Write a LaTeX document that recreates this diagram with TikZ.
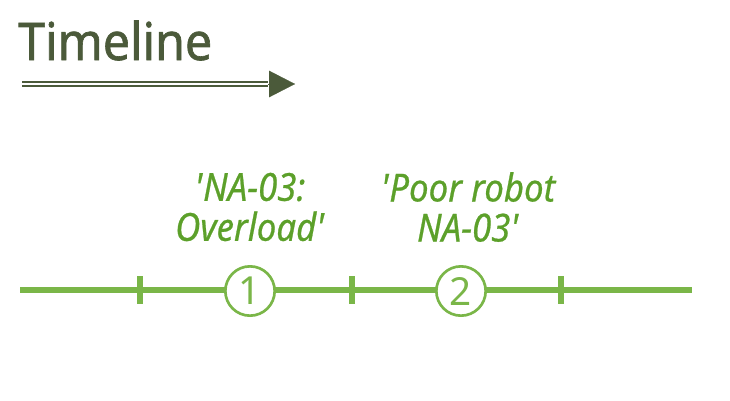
\documentclass[tikz,border=0pt]{standalone}
\usepackage{fontspec}
\setmainfont{Noto Sans}
\usetikzlibrary{arrows.meta}
\definecolor{olive}{RGB}{75,90,58}
\definecolor{lineg}{RGB}{122,182,72}
\definecolor{textg}{RGB}{92,160,42}
\begin{document}
\begin{tikzpicture}[x=0.75pt,y=-0.75pt,
   tick/.style={rectangle,fill=lineg,inner sep=0pt,minimum width=3.8pt,minimum height=21pt},
   mark circle/.style={circle,draw=lineg,line width=2pt,fill=white,minimum size=37pt,
      inner sep=0pt,text=lineg,font=\fontsize{29}{29}\selectfont},
   event/.style={text=textg,align=center,
      font=\fontsize{29}{30}\selectfont\itshape\addfontfeature{FakeStretch=0.9,FakeBold=0.6}}]
   \useasboundingbox (0,0) rectangle (730,400);

   \node[anchor=base west,text=olive,inner sep=0pt,
      font=\fontsize{39}{39}\selectfont\addfontfeature{FakeStretch=0.93,FakeBold=1.2}] (title) at (18,60) {Timeline};
   \coordinate (a0) at (22,84);
   \coordinate (a1) at (268,84);
   \coordinate (a2) at (295,84);

   \coordinate (t0) at (20,290);
   \coordinate (t4) at (692,290);
   \node[tick] (k1) at (140,290) {};
   \node[tick] (k2) at (352,290) {};
   \node[tick] (k3) at (561,290) {};

   \path[draw=olive,line width=1.6pt,double=white,double distance=2pt] (a0) -- (a1);
   \path[draw=olive,line width=0.1pt,-{Triangle[length=19.5pt,width=20pt]}] (a1) -- (a2);

   \path[draw=lineg,line width=3.8pt] (t0) -- (t4);

   \node[mark circle] (c1) at (250,291) {1};
   \node[mark circle] (c2) at (461,291) {2};

   \node[event] (e1) at (250,207) {\textquotesingle NA-03:\\Overload\textquotesingle};
   \node[event] (e2) at (468,207) {\textquotesingle Poor robot\\NA-03\textquotesingle};

\end{tikzpicture}
\end{document}
